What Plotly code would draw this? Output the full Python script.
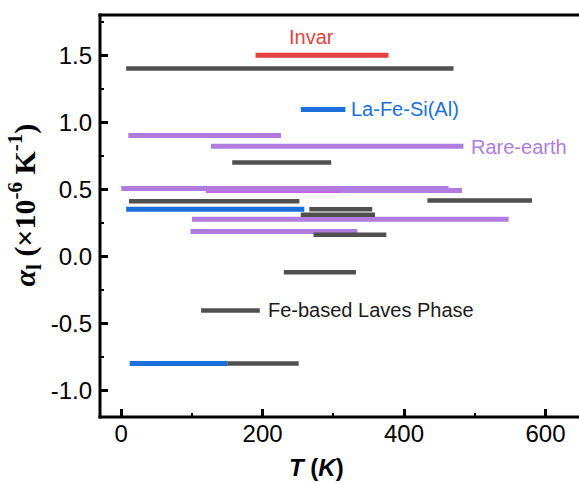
import plotly.graph_objects as go

# Temperature windows (K) and linear thermal expansion coefficients (x1e-6 /K)
invar_t0 = [190]
invar_t1 = [378]
invar_a = [1.50]

laves_t0 = [7, 157, 11, 266, 254, 433, 272, 230, 113, 150]
laves_t1 = [470, 297, 252, 355, 359, 581, 375, 332, 196, 251]
laves_a = [1.40, 0.70, 0.41, 0.35, 0.31, 0.415, 0.16, -0.12, -0.405, -0.80]

lafesi_t0 = [254, 7, 12]
lafesi_t1 = [317, 259, 150]
lafesi_a = [1.095, 0.35, -0.80]

rare_t0 = [10, 127, 0, 120, 100, 98]
rare_t1 = [226, 484, 463, 482, 548, 334]
rare_a = [0.90, 0.82, 0.505, 0.49, 0.275, 0.185]

rare_edge_t0 = [120]
rare_edge_t1 = [308]
rare_edge_a = [0.478]

x_ticks = [0, 200, 400, 600]
y_ticks = [-1.0, -0.5, 0.0, 0.5, 1.0, 1.5]

C_RED = "#E84040"
C_GREY = "#505050"
C_BLUE = "#1A6FDB"
C_PURPLE = "#B07CE0"
C_MAGENTA = "#D050F0"


def segments(t0, t1, a):
    xs, ys = [], []
    for s, e, v in zip(t0, t1, a):
        xs += [s, e, None]
        ys += [v, v, None]
    return xs, ys


fig = go.Figure()


def add(t0, t1, a, color, width):
    xs, ys = segments(t0, t1, a)
    fig.add_trace(go.Scatter(x=xs, y=ys, mode="lines",
                             line=dict(color=color, width=width),
                             hoverinfo="skip", showlegend=False))


add(lafesi_t0, lafesi_t1, lafesi_a, C_BLUE, 5)
add(rare_t0, rare_t1, rare_a, C_PURPLE, 5)
add(rare_edge_t0, rare_edge_t1, rare_edge_a, C_MAGENTA, 1.2)
add(laves_t0, laves_t1, laves_a, C_GREY, 4.5)
add(invar_t0, invar_t1, invar_a, C_RED, 5)

label_font = "Liberation Sans, Arial, sans-serif"
fig.add_annotation(x=269, y=1.634, text="Invar", showarrow=False,
                   font=dict(family=label_font, size=20, color=C_RED),
                   xanchor="center", yanchor="middle")
fig.add_annotation(x=322, y=1.097, text="La-Fe-Si(Al)", showarrow=False,
                   font=dict(family=label_font, size=20, color=C_BLUE),
                   xanchor="left", yanchor="middle")
fig.add_annotation(x=492, y=0.813, text="Rare-earth", showarrow=False,
                   font=dict(family=label_font, size=20, color=C_PURPLE),
                   xanchor="left", yanchor="middle")
fig.add_annotation(x=205, y=-0.403, text="Fe-based Laves Phase", showarrow=False,
                   font=dict(family=label_font, size=20, color="#1A1A1A"),
                   xanchor="left", yanchor="middle")

# axis titles
fig.add_annotation(x=276, y=-0.1617, xref="x", yref="paper",
                   text="<b><i>T</i> (<i>K</i>)</b>", showarrow=False, borderpad=0,
                   font=dict(family=label_font, size=24, color="black"),
                   xanchor="center", yanchor="bottom")
fig.add_annotation(x=-0.153, y=0.526, xref="paper", yref="paper", textangle=-90,
                   text="<b><i>α</i><sub>l</sub> (×10<sup>-6</sup> K<sup>-1</sup>)</b>",
                   showarrow=False,
                   font=dict(family="Liberation Serif, Times New Roman, serif", size=30, color="black"),
                   xanchor="center", yanchor="middle")

# frame: left, bottom and top spines; the right side stays open
frame = dict(color="black", width=3)
fig.add_shape(type="line", xref="paper", yref="paper", x0=-0.003, x1=1, y0=1, y1=1, line=frame)
fig.add_shape(type="line", xref="paper", yref="paper", x0=-0.003, x1=1, y0=0, y1=0, line=frame)
fig.add_shape(type="line", xref="paper", yref="paper", x0=0, x1=0, y0=-0.004, y1=1.004, line=frame)

fig.update_xaxes(range=[-30, 663], tickvals=x_ticks, ticktext=[str(v) for v in x_ticks],
                 showgrid=False, zeroline=False, showline=False,
                 ticks="inside", ticklen=8, tickwidth=3, tickcolor="black",
                 minor=dict(ticks="inside", ticklen=4, tickwidth=2, tickcolor="black",
                            dtick=100, tick0=0, showgrid=False),
                 tickfont=dict(family=label_font, size=24, color="black"))
fig.update_yaxes(range=[-1.2, 1.8], tickvals=y_ticks, ticktext=[f"{v:.1f}" for v in y_ticks],
                 showgrid=False, zeroline=False, showline=False,
                 ticks="inside", ticklen=8, tickwidth=3, tickcolor="black",
                 ticklabelstandoff=7,
                 minor=dict(ticks="inside", ticklen=4, tickwidth=2, tickcolor="black",
                            dtick=0.25, tick0=0, showgrid=False),
                 tickfont=dict(family=label_font, size=24, color="black"))

fig.update_layout(width=590, height=483, margin=dict(l=100, r=0, t=15, b=66),
                  plot_bgcolor="white", paper_bgcolor="white")

fig.write_html("out.html")
